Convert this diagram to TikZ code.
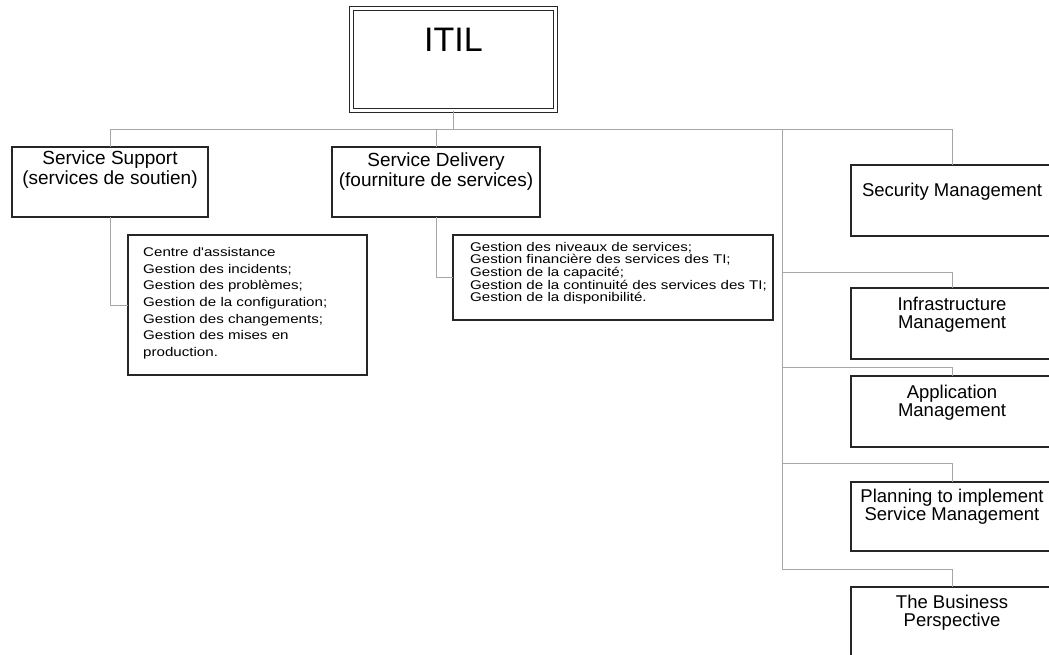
\documentclass[tikz,border=0pt]{standalone}
\usepackage{fontspec}
\setmainfont{Liberation Sans}
\newfontfamily\listfont[FakeStretch=1.2]{Liberation Sans}
\usetikzlibrary{positioning}

\tikzset{
 box/.style={draw=black!85, line width=1.5pt, fill=white, anchor=north west, inner sep=0pt, outer sep=0pt},
 conn/.style={draw=gray!70, line width=1pt},
 headtxt/.style={inner sep=0pt, align=center, font=\fontsize{19}{20}\selectfont},
 sidetxt/.style={inner sep=0pt, align=center, font=\fontsize{18.5}{18}\selectfont},
 listtxt/.style={inner sep=0pt, align=left, font=\listfont\fontsize{12.6}{16.7}\selectfont},
}

\begin{document}
\begin{tikzpicture}[x=1pt, y=-1pt]
\useasboundingbox (0,0) rectangle (1049,654);
\clip (0,0) rectangle (1049,654);

% top box
\node[box, double, double distance=2.5pt, line width=1pt, minimum width=204pt, minimum height=102pt] (itil) at (351.5,8.5) {};
\node[inner sep=0pt, font=\fontsize{34}{34}\selectfont, below=19pt of itil.north] (itiltxt) {ITIL};

% left branches
\node[box, minimum width=196pt, minimum height=70pt] (supp) at (12,147) {};
\node[box, minimum width=208pt, minimum height=70pt] (deliv) at (332,147) {};
\node[box, minimum width=239pt, minimum height=140pt] (supplist) at (128,235) {};
\node[box, minimum width=320pt, minimum height=85pt] (delivlist) at (453,235) {};

% right column
\node[box, minimum width=202pt, minimum height=71pt] (sec) at (851,165) {};
\node[box, minimum width=202pt, minimum height=71pt] (infra) at (851,288) {};
\node[box, minimum width=202pt, minimum height=71pt] (appl) at (851,376) {};
\node[box, minimum width=202pt, minimum height=69pt] (plan) at (851,482) {};
\node[box, minimum width=202pt, minimum height=80pt] (busi) at (851,587) {};

% connectors
\coordinate (bus) at (0,129);
\coordinate (trunk) at (782,129);
\draw[conn] (itil.south) -- (itil.south |- bus);
\draw[conn] (supp.north) |- (bus -| sec.north) -- (sec.north);
\draw[conn] (deliv.north) -- (deliv.north |- bus);
\draw[conn] (trunk) -- (782,569);
\foreach \b/\y in {infra/272, appl/367, plan/463, busi/569}
  \draw[conn] (782,\y) -| (\b.north);
\draw[conn] (supp.south) |- (supplist.west);
\draw[conn] (deliv.south) |- (delivlist.west);

% texts
\node[headtxt, below=4pt of supp.north] (supptxt) {Service Support\\(services de soutien)};
\node[headtxt, below=6pt of deliv.north] (delivtxt) {Service Delivery\\(fourniture de services)};

\node[listtxt, below right=12pt and 15pt of supplist.north west] (supplisttxt)
  {Centre d'assistance\\Gestion des incidents;\\Gestion des problèmes;\\Gestion de la configuration;\\Gestion des changements;\\Gestion des mises en\\production.};
\node[listtxt, font=\listfont\fontsize{12.6}{12.6}\selectfont, below right=7pt and 17pt of delivlist.north west] (delivlisttxt)
  {Gestion des niveaux de services;\\Gestion financière des services des TI;\\Gestion de la capacité;\\Gestion de la continuité des services des TI;\\Gestion de la disponibilité.};

\node[sidetxt, below=18pt of sec.north] (sectxt) {Security Management};
\node[sidetxt, below=9pt of infra.north] (infratxt) {Infrastructure\\Management};
\node[sidetxt, below=9pt of appl.north] (appltxt) {Application\\Management};
\node[sidetxt, below=7pt of plan.north] (plantxt) {Planning to implement\\Service Management};
\node[sidetxt, below=8pt of busi.north] (busitxt) {The Business\\Perspective};

\end{tikzpicture}
\end{document}
